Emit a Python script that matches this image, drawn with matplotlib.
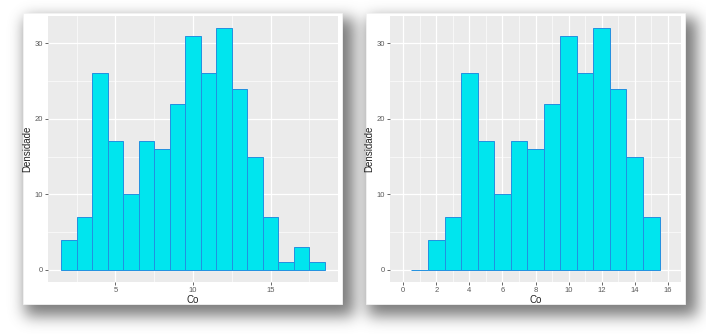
import numpy as np
import matplotlib
matplotlib.use("Agg")
import matplotlib.pyplot as plt
from matplotlib.patches import Rectangle

# ---- data ----
left_centers = [2, 3, 4, 5, 6, 7, 8, 9, 10, 11, 12, 13, 14, 15, 16, 17, 18]
left_counts = [4, 7, 26, 17, 10, 17, 16, 22, 31, 26, 32, 24, 15, 7, 1, 3, 1]
left_xticks = [5, 10, 15]

right_centers = [1, 2, 3, 4, 5, 6, 7, 8, 9, 10, 11, 12, 13, 14, 15]
right_counts = [0, 4, 7, 26, 17, 10, 17, 16, 22, 31, 26, 32, 24, 15, 7]
right_xticks = [0, 2, 4, 6, 8, 10, 12, 14, 16]

y_ticks = [0, 10, 20, 30]
x_label = "Co"
y_label = "Densidade"

plt.rcParams["font.family"] = ["Liberation Sans", "DejaVu Sans"]

W, H = 706, 334
fig = plt.figure(figsize=(W / 100, H / 100), dpi=100)
fig.patch.set_facecolor("white")

# ---- background with drop shadows ----
bg = fig.add_axes([0, 0, 1, 1])
bg.set_xlim(0, W)
bg.set_ylim(H, 0)
bg.axis("off")

cards = [(23, 13, 342, 304), (366, 13, 685, 304)]
mask = np.zeros((H, W))
for (x0, y0, x1, y1) in cards:
    mask[y0 + 5:y1 + 12, x0 + 2:x1 + 12] = 1.0


def blur(a, s):
    r = int(3 * s)
    k = np.exp(-0.5 * (np.arange(-r, r + 1) / s) ** 2)
    k /= k.sum()
    a = np.apply_along_axis(lambda v: np.convolve(v, k, mode="same"), 0, a)
    a = np.apply_along_axis(lambda v: np.convolve(v, k, mode="same"), 1, a)
    return a


sh = blur(mask, 7.5)
rgba = np.zeros((H, W, 4))
rgba[..., :3] = 0.35
rgba[..., 3] = np.clip(sh * 0.8, 0, 1)
bg.imshow(rgba, extent=(0, W, H, 0), interpolation="bilinear", zorder=1)
for (x0, y0, x1, y1) in cards:
    bg.add_patch(Rectangle((x0, y0), x1 - x0, y1 - y0, facecolor="white",
                           edgecolor="#f2f2f2", lw=0.6, zorder=2))

fill_c = "#00E5EE"
edge_c = "#2290E0"
panel_bg = "#EBEBEB"


def style(ax, xticks, xminor):
    ax.set_facecolor(panel_bg)
    for s in ax.spines.values():
        s.set_visible(False)
    ax.set_yticks(y_ticks)
    ax.set_yticks([5, 15, 25], minor=True)
    ax.set_xticks(xticks)
    ax.set_xticks(xminor, minor=True)
    ax.grid(True, which="major", color="white", lw=0.9)
    ax.grid(True, which="minor", color="white", lw=0.45)
    ax.set_axisbelow(True)
    ax.tick_params(which="major", length=2, width=0.6, color="#4d4d4d",
                   labelsize=5.5, labelcolor="#5a5a5a", pad=1.5)
    ax.tick_params(which="minor", length=0)
    ax.set_xlabel(x_label, fontsize=7, color="#222222", labelpad=0.5)
    ax.set_ylabel(y_label, fontsize=7, color="#222222", labelpad=2)
    ax.set_ylim(-1.6, 33.6)


axL = fig.add_axes([48 / W, (H - 282) / H, 290 / W, 266 / H])
axL.bar(left_centers, left_counts, width=1, color=fill_c, edgecolor=edge_c, lw=0.7)
axL.set_xlim(0.65, 19.35)
style(axL, left_xticks, [2.5, 7.5, 12.5, 17.5])

axR = fig.add_axes([390 / W, (H - 282) / H, 291 / W, 266 / H])
axR.bar(right_centers, right_counts, width=1, color=fill_c, edgecolor=edge_c, lw=0.7)
axR.set_xlim(-0.8, 16.8)
style(axR, right_xticks, [1, 3, 5, 7, 9, 11, 13, 15])

fig.savefig("out.png", dpi=100, facecolor="white")
